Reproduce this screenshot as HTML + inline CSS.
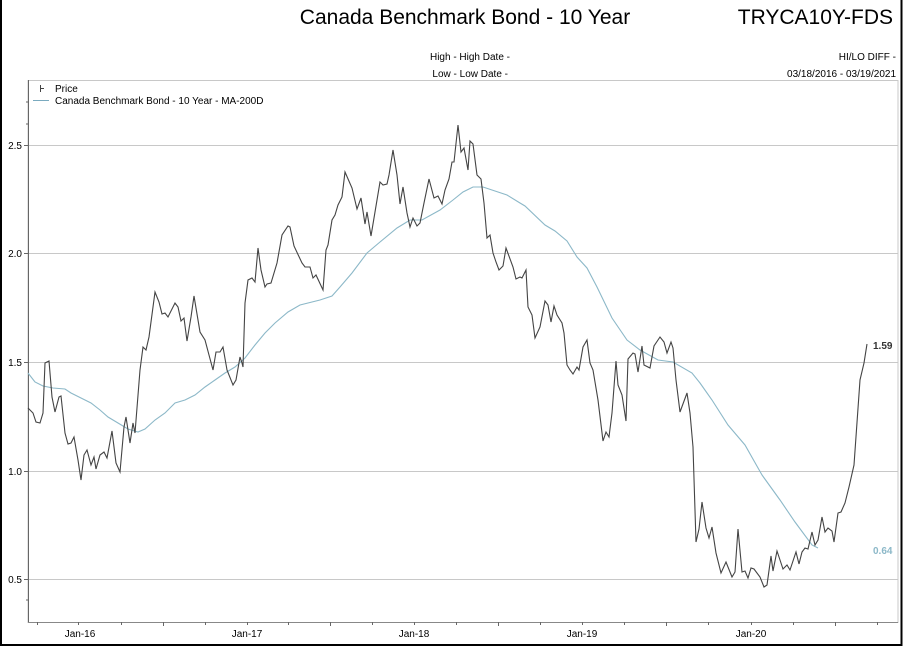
<!DOCTYPE html>
<html><head><meta charset="utf-8"><style>
body{margin:0;background:#fff;}
svg{display:block;font-family:"Liberation Sans",sans-serif;}
</style></head><body>
<svg width="903" height="647" viewBox="0 0 903 647">
<rect x="1" y="-2" width="900.5" height="647" fill="#fff" stroke="#000" stroke-width="2"/>
<text x="465" y="24" font-size="21" text-anchor="middle">Canada Benchmark Bond - 10 Year</text>
<text x="893" y="24" font-size="21" text-anchor="end">TRYCA10Y-FDS</text>
<text x="510" y="60" font-size="10" text-anchor="end">High - High Date -</text>
<text x="508" y="77" font-size="10" text-anchor="end">Low - Low Date -</text>
<text x="896" y="60" font-size="10" text-anchor="end">HI/LO DIFF -</text>
<text x="896" y="77" font-size="10" text-anchor="end">03/18/2016 - 03/19/2021</text>
<rect x="28" y="80.5" width="870" height="542" fill="none" stroke="#c8c8c8"/>
<g stroke="#c8c8c8" stroke-width="1">
<line x1="28" y1="145.5" x2="898" y2="145.5"/><line x1="28" y1="253.5" x2="898" y2="253.5"/>
<line x1="28" y1="362.5" x2="898" y2="362.5"/><line x1="28" y1="471.5" x2="898" y2="471.5"/>
<line x1="28" y1="579.5" x2="898" y2="579.5"/></g>
<line x1="28.5" y1="80" x2="28.5" y2="623" stroke="#666"/>
<line x1="28" y1="622.5" x2="898" y2="622.5" stroke="#888"/>
<g stroke="#666"><line x1="24" y1="145.5" x2="28" y2="145.5"/><line x1="24" y1="253.5" x2="28" y2="253.5"/><line x1="24" y1="362.5" x2="28" y2="362.5"/><line x1="24" y1="471.5" x2="28" y2="471.5"/><line x1="24" y1="579.5" x2="28" y2="579.5"/>
<line x1="26" y1="102" x2="28" y2="102"/><line x1="26" y1="124" x2="28" y2="124"/><line x1="26" y1="600" x2="28" y2="600"/>
<line x1="37.5" y1="622" x2="37.5" y2="625"/><line x1="78.5" y1="622" x2="78.5" y2="625"/><line x1="121.5" y1="622" x2="121.5" y2="625"/><line x1="163.5" y1="622" x2="163.5" y2="626"/><line x1="205.5" y1="622" x2="205.5" y2="625"/><line x1="247.5" y1="622" x2="247.5" y2="625"/><line x1="288.5" y1="622" x2="288.5" y2="625"/><line x1="330.5" y1="622" x2="330.5" y2="626"/><line x1="372.5" y1="622" x2="372.5" y2="625"/><line x1="414.5" y1="622" x2="414.5" y2="625"/><line x1="456.5" y1="622" x2="456.5" y2="625"/><line x1="498.5" y1="622" x2="498.5" y2="626"/><line x1="540.5" y1="622" x2="540.5" y2="625"/><line x1="582.5" y1="622" x2="582.5" y2="625"/><line x1="624.5" y1="622" x2="624.5" y2="625"/><line x1="666.5" y1="622" x2="666.5" y2="626"/><line x1="708.5" y1="622" x2="708.5" y2="625"/><line x1="751.5" y1="622" x2="751.5" y2="625"/><line x1="793.5" y1="622" x2="793.5" y2="625"/><line x1="835.5" y1="622" x2="835.5" y2="626"/><line x1="877.5" y1="622" x2="877.5" y2="625"/></g>
<g font-size="10" fill="#000" text-anchor="end">
<text x="22" y="149">2.5</text><text x="22" y="257">2.0</text><text x="22" y="366">1.5</text><text x="22" y="475">1.0</text><text x="22" y="583">0.5</text></g>
<g font-size="10" fill="#000" text-anchor="middle">
<text x="80" y="637">Jan-16</text><text x="247" y="637">Jan-17</text><text x="414" y="637">Jan-18</text><text x="582" y="637">Jan-19</text><text x="751" y="637">Jan-20</text></g>
<line x1="40.5" y1="85" x2="40.5" y2="92" stroke="#444"/><line x1="40" y1="88.5" x2="44" y2="88.5" stroke="#444"/>
<text x="55" y="92" font-size="10">Price</text>
<line x1="33" y1="100.5" x2="49" y2="100.5" stroke="#7aaabf"/>
<text x="55" y="104" font-size="10">Canada Benchmark Bond - 10 Year - MA-200D</text>
<polyline fill="none" stroke="#8cb8c8" stroke-width="1.1" points="28,373 35,382 43,386 53,388 65,389 71,393 81,398 91,403 100,410 108,417 118,423 128,429 138,432 145,429 155,420 165,413 175,403 185,400 195,395 205,387 215,380 225,373 235,367 245,358 255,345 265,333 275,323 288,312 300,305 320,300 332,296 340,287 352,273 367,253 380,242 397,228 410,220 422,220 440,210 453,200 463,192 473,187 483,187 507,195 520,203 525,206 545,225 555,231 567,241 577,257 587,268 597,287 612,318 627,340 640,350 658,360 673,362 692,373 700,383 712,400 728,425 745,445 762,475 780,500 795,522 812,545 818,548"/>
<polyline fill="none" stroke="#444" stroke-width="1.1" points="28,408 33,413 36,422 40,423 43,413 45,363 49,361 52,397 55,412 59,397 61,396 65,433 68,444 71,443 74,437 78,460 81,480 84,455 87,450 91,465 94,457 96,469 100,455 104,452 107,458 112,431 116,463 120,472 124,427 126,417 130,443 133,423 135,433 140,370 143,347 146,350 149,337 155,292 159,302 162,314 165,313 168,317 175,303 178,307 181,321 184,318 187,341 191,317 194,296 200,332 205,340 209,355 213,370 216,352 220,352 223,347 227,370 233,385 236,380 240,357 242,363 243,367 245,303 248,280 252,278 255,282 258,248 261,270 265,287 267,284 271,283 277,263 282,235 288,226 290,227 294,246 302,263 305,267 310,267 313,278 316,275 323,290 326,250 328,245 332,220 335,215 338,205 342,197 345,172 352,188 357,209 361,198 365,224 367,212 371,236 375,212 380,182 383,185 387,184 389,175 393,150 397,175 400,204 403,187 407,213 410,227 413,218 417,226 420,223 424,203 429,179 434,198 438,196 442,204 445,190 449,179 452,162 454,162 458,125 461,152 464,148 468,170 470,141 473,144 477,175 481,179 484,203 487,238 490,235 493,253 496,262 499,270 503,266 506,248 513,267 516,279 520,277 522,278 526,270 528,307 532,315 535,338 540,327 545,301 548,305 551,322 554,306 557,315 562,323 564,333 567,365 570,370 573,374 577,367 579,370 583,347 587,340 590,363 593,370 598,400 603,441 606,432 609,437 612,413 616,361 618,385 622,395 626,421 628,359 633,353 635,354 638,372 642,346 644,365 650,368 654,346 660,337 664,342 667,353 671,342 673,348 676,380 680,412 687,393 690,413 693,447 696,542 699,529 702,502 706,528 709,538 712,527 716,553 721,573 726,562 732,577 735,572 738,529 742,572 745,571 748,578 751,568 754,569 760,577 764,587 767,585 771,556 773,571 777,551 780,560 783,569 787,565 790,570 796,552 799,564 802,552 805,548 808,549 812,532 815,545 818,540 822,517 825,532 828,528 832,531 834,542 838,513 841,512 845,503 849,487 854,465 860,380 864,363 867,344"/>
<text x="873" y="349" font-size="10" font-weight="bold" fill="#333">1.59</text>
<text x="873" y="554" font-size="10" font-weight="bold" fill="#8cb8c8">0.64</text>
</svg>
</body></html>
